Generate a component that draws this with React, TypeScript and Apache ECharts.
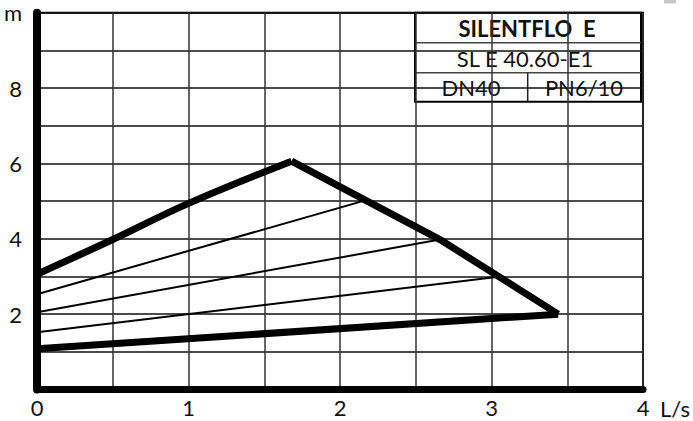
import React, { useEffect, useRef } from "react";
import * as echarts from "echarts";

// Data
const xTicks = [0, 1, 2, 3, 4];
const yTicks = [2, 4, 6, 8];
const yUnit = "m";
const xUnit = "L/s";

const maxRising: [number, number][] = [
  [0, 3.06],
  [0.5, 3.98],
  [1.0, 4.94],
  [1.68, 6.06],
];
const maxFalling: [number, number][] = [
  [1.68, 6.06],
  [2.66, 3.98],
  [3.44, 2.0],
];
const minCurve: [number, number][] = [
  [0, 1.08],
  [3.44, 2.0],
];
const step5: [number, number][] = [
  [0, 2.53],
  [2.15, 5.0],
];
const step4: [number, number][] = [
  [0, 2.05],
  [2.66, 3.98],
];
const step3: [number, number][] = [
  [0, 1.52],
  [3.02, 2.98],
];

const titleMain = "SILENTFLO\u00a0\u00a0E";
const titleModel = "SL E 40.60-E1";
const titleDN = "DN40";
const titlePN = "PN6/10";

const FONT = "Lato, 'Open Sans', sans-serif";

export default function App() {
  const ref = useRef<HTMLDivElement>(null);

  useEffect(() => {
    if (!ref.current) return;
    const chart = echarts.init(ref.current, undefined, { renderer: "svg" });

    const thick = { color: "#000", width: 7, join: "miter" as const };
    const thin = { color: "#000", width: 2 };

    const boxL = 415,
      boxT = 12.7,
      boxR = 641,
      boxB = 101.7;
    const row1 = 42.7,
      row2 = 72.7,
      divX = 527.7;

    chart.setOption({
      animation: false,
      backgroundColor: "#fff",
      grid: {
        left: 37,
        right: 50,
        top: 12.7,
        bottom: 31.5,
        show: true,
        borderColor: "#000",
        borderWidth: 2,
        backgroundColor: "transparent",
      },
      xAxis: {
        type: "value",
        min: 0,
        max: 4,
        interval: 0.5,
        axisLine: { show: true, onZero: false, lineStyle: { color: "#000", width: 7 } },
        axisTick: { show: false },
        splitLine: { show: true, lineStyle: { color: "#333", width: 1.5 } },
        axisLabel: {
          margin: 8,
          color: "#111",
          fontFamily: FONT,
          fontSize: 22,
          lineHeight: 20,
          formatter: (v: number) => (xTicks.includes(v) ? String(v) : ""),
        },
      },
      yAxis: {
        type: "value",
        min: 0,
        max: 10,
        interval: 1,
        axisLine: { show: true, onZero: false, lineStyle: { color: "#000", width: 8 } },
        axisTick: { show: false },
        splitLine: { show: true, lineStyle: { color: "#111", width: 1.5 } },
        axisLabel: {
          margin: 15,
          color: "#111",
          fontFamily: FONT,
          fontSize: 22,
          formatter: (v: number) =>
            v === 10 ? yUnit : yTicks.includes(v) ? String(v) : "",
        },
      },
      series: [
        { type: "line", data: step5, symbol: "none", lineStyle: thin, z: 3 },
        { type: "line", data: step4, symbol: "none", lineStyle: thin, z: 3 },
        { type: "line", data: step3, symbol: "none", lineStyle: thin, z: 3 },
        { type: "line", data: minCurve, symbol: "none", lineStyle: thick, z: 4 },
        { type: "line", data: maxRising, symbol: "none", smooth: 0.4, lineStyle: thick, z: 4 },
        { type: "line", data: maxFalling, symbol: "none", lineStyle: thick, z: 4 },
      ],
      graphic: [
        {
          type: "rect",
          shape: { x: 664, y: 0, width: 12, height: 3.5 },
          style: { fill: "#c8c8c8" },
        },
        {
          type: "text",
          x: 660,
          y: 408,
          style: {
            text: xUnit,
            fill: "#111",
            fontFamily: FONT,
            fontSize: 22,
            align: "left",
            verticalAlign: "middle",
          },
        },
        {
          type: "group",
          z: 100,
          children: [
            {
              type: "rect",
              shape: { x: boxL, y: boxT, width: boxR - boxL, height: boxB - boxT },
              style: { fill: "#fff", stroke: "#000", lineWidth: 2 },
            },
            {
              type: "line",
              shape: { x1: boxL, y1: row1, x2: boxR, y2: row1 },
              style: { stroke: "#444", lineWidth: 1.5 },
            },
            {
              type: "line",
              shape: { x1: boxL, y1: row2, x2: boxR, y2: row2 },
              style: { stroke: "#444", lineWidth: 1.5 },
            },
            {
              type: "line",
              shape: { x1: divX, y1: row2, x2: divX, y2: boxB },
              style: { stroke: "#222", lineWidth: 1.5 },
            },
            {
              type: "text",
              x: 527,
              y: 28.5,
              style: {
                text: titleMain,
                fill: "#111",
                fontFamily: FONT,
                fontSize: 22,
                fontWeight: "bold",
                align: "center",
                verticalAlign: "middle",
              },
            },
            {
              type: "text",
              x: 525,
              y: 58,
              style: {
                text: titleModel,
                fill: "#111",
                fontFamily: FONT,
                fontSize: 22,
                align: "center",
                verticalAlign: "middle",
              },
            },
            {
              type: "text",
              x: 471,
              y: 87,
              style: {
                text: titleDN,
                fill: "#111",
                fontFamily: FONT,
                fontSize: 22,
                align: "center",
                verticalAlign: "middle",
              },
            },
            {
              type: "text",
              x: 584,
              y: 87,
              style: {
                text: titlePN,
                fill: "#111",
                fontFamily: FONT,
                fontSize: 22,
                align: "center",
                verticalAlign: "middle",
              },
            },
          ],
        },
      ],
    });

    return () => chart.dispose();
  }, []);

  return (
    <div
      ref={ref}
      style={{ position: "fixed", left: 0, top: 0, width: 693, height: 421, background: "#fff" }}
    />
  );
}
